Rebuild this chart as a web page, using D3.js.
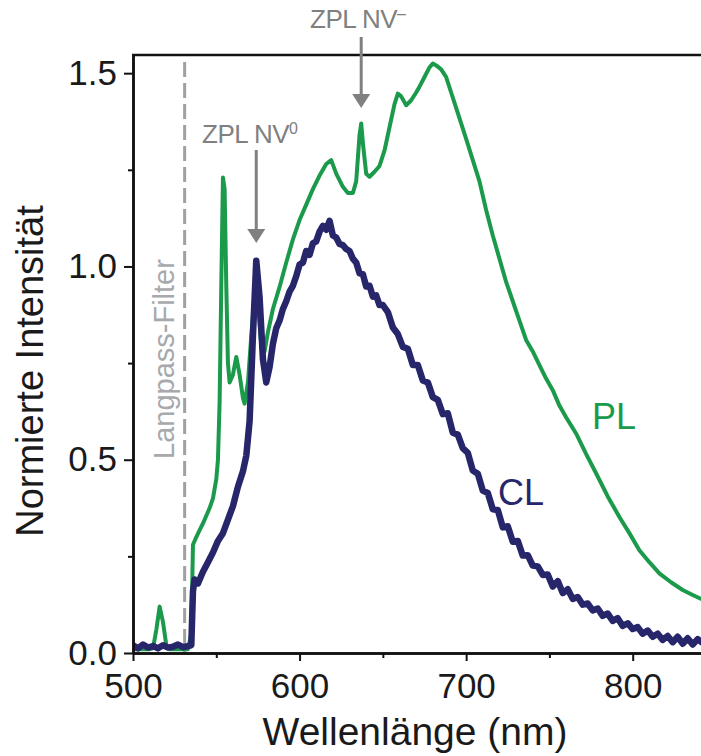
<!DOCTYPE html>
<html>
<head>
<meta charset="utf-8">
<script src="https://cdn.jsdelivr.net/npm/d3@7"></script>
<style>
    body { margin: 0; background: #ffffff; }
    text { font-family: "Liberation Sans", Arial, sans-serif; }
</style>
</head>
<body>
<div id="chart"></div>
<script>
// Spectra (wavelength in nm, normalised intensity)
var plWavelength = [500, 505, 510, 512, 514, 516, 518, 520, 522, 528, 533, 535, 536, 538, 540, 542, 544, 546, 548, 550,
    551, 552, 553, 554, 555, 556, 557, 558, 560, 562, 564, 566, 567, 569, 571, 573, 575, 577, 579, 581,
    584, 588, 592, 596, 600, 604, 608, 612, 616, 619, 622, 626, 629, 632, 634, 636, 637, 638, 640, 642,
    645, 648, 651, 654, 657, 659, 661, 664, 667, 670, 672, 675, 678, 680, 682, 685, 688, 691, 694, 697,
    700, 704, 708, 712, 716, 720, 724, 728, 732, 736, 740, 744, 748, 752, 756, 760, 766, 772, 778, 785,
    792, 798, 804, 810, 816, 823, 830, 836, 842];
var plIntensity = [0.01, 0.01, 0.01, 0.012, 0.06, 0.12, 0.08, 0.02, 0.01, 0.01, 0.01, 0.05, 0.28, 0.30, 0.318, 0.335, 0.355, 0.375, 0.40, 0.45,
    0.50, 0.65, 0.95, 1.23, 1.20, 0.95, 0.75, 0.70, 0.72, 0.766, 0.72, 0.66, 0.645, 0.70, 0.82, 0.93, 0.90, 0.80, 0.78, 0.83,
    0.89, 0.947, 1.01, 1.07, 1.12, 1.16, 1.20, 1.235, 1.265, 1.275, 1.24, 1.206, 1.19, 1.19, 1.22, 1.34, 1.37, 1.32, 1.24, 1.232,
    1.245, 1.26, 1.30, 1.36, 1.42, 1.447, 1.44, 1.417, 1.43, 1.45, 1.465, 1.49, 1.515, 1.525, 1.52, 1.51, 1.49, 1.45, 1.41, 1.37,
    1.33, 1.275, 1.22, 1.146, 1.08, 1.02, 0.96, 0.91, 0.86, 0.81, 0.78, 0.745, 0.71, 0.68, 0.64, 0.61, 0.568, 0.515, 0.465, 0.405,
    0.352, 0.31, 0.266, 0.235, 0.206, 0.183, 0.163, 0.15, 0.138];

var clWavelength = [500, 503, 506, 509, 512, 515, 518, 521, 524, 527, 530, 533, 535, 536, 537, 539, 542, 545, 548, 551,
    554, 557, 560, 563, 566, 568, 570, 572, 574, 576, 578, 580, 582, 584, 586, 588, 590, 592, 594, 596,
    598, 600, 602, 604, 606, 608, 610, 612, 614, 616, 618, 620, 622, 624, 626, 628, 630, 632, 634, 636,
    638, 640, 642, 644, 646, 648, 650, 653, 656, 659, 662, 665, 668, 671, 674, 677, 680, 683, 686, 689,
    692, 695, 698, 701, 704, 707, 710, 713, 716, 719, 722, 725, 728, 731, 734, 737, 740, 743, 746, 749,
    752, 755, 758, 761, 764, 767, 770, 773, 776, 779, 782, 785, 788, 791, 794, 797, 800, 803, 806, 809,
    812, 815, 818, 821, 824, 827, 830, 833, 836, 839, 842];
var clIntensity = [0.02, 0.012, 0.022, 0.014, 0.018, 0.012, 0.02, 0.014, 0.016, 0.022, 0.015, 0.018, 0.02, 0.16, 0.19, 0.18, 0.21, 0.235, 0.26, 0.29,
    0.31, 0.345, 0.38, 0.43, 0.47, 0.51, 0.60, 0.82, 1.015, 0.92, 0.76, 0.70, 0.74, 0.80, 0.84, 0.86, 0.89, 0.91, 0.935, 0.95,
    0.975, 1.005, 1.01, 1.04, 1.03, 1.06, 1.065, 1.09, 1.105, 1.095, 1.118, 1.08, 1.075, 1.058, 1.055, 1.045, 1.04, 1.02, 1.01, 0.982,
    0.98, 0.948, 0.95, 0.922, 0.925, 0.90, 0.90, 0.882, 0.842, 0.825, 0.792, 0.787, 0.745, 0.745, 0.705, 0.70, 0.662, 0.655, 0.618, 0.62,
    0.57, 0.565, 0.53, 0.518, 0.472, 0.464, 0.42, 0.414, 0.372, 0.37, 0.325, 0.328, 0.288, 0.29, 0.252, 0.253, 0.226, 0.224, 0.202, 0.203,
    0.172, 0.186, 0.155, 0.165, 0.14, 0.145, 0.125, 0.128, 0.11, 0.115, 0.096, 0.102, 0.083, 0.09, 0.07, 0.077, 0.062, 0.067, 0.05, 0.058,
    0.042, 0.05, 0.034, 0.044, 0.028, 0.042, 0.024, 0.038, 0.022, 0.036, 0.026];

var xMajorTicks = [500, 600, 700, 800];
var xMinorTicks = [550, 650, 750];
var yMajorTicks = [0.0, 0.5, 1.0, 1.5];
var yMinorTicks = [0.25, 0.75, 1.25];

var filterWavelength = 531;
var zplLabels = ["ZPL NV", "ZPL NV"];
var zplSuperscripts = ["0", "\u2013"];
var zplWavelength = [574, 637];

var main = function () {
    "use strict";

    var width = 701, height = 756;
    var plot = {left: 133, right: 701, top: 55, bottom: 653};

    var svg = d3.select("#chart").append("svg")
        .attr("width", width)
        .attr("height", height);

    var x = d3.scaleLinear().domain([500, 841]).range([plot.left, plot.right]);
    var y = d3.scaleLinear().domain([0, 1.547]).range([plot.bottom, plot.top]);

    // Clip the spectra to the plotting area
    svg.append("clipPath").attr("id", "clip")
        .append("rect")
        .attr("x", plot.left).attr("y", plot.top)
        .attr("width", plot.right - plot.left).attr("height", plot.bottom - plot.top);

    // Longpass filter edge
    svg.append("line")
        .attr("x1", x(filterWavelength)).attr("x2", x(filterWavelength))
        .attr("y1", plot.top + 7).attr("y2", plot.bottom)
        .attr("stroke", "#a0a0a0")
        .attr("stroke-width", 3)
        .attr("stroke-dasharray", "15,6");

    svg.append("text")
        .attr("transform", "translate(" + (x(filterWavelength) - 11) + "," + 459 + ") rotate(-90)")
        .attr("fill", "#a7a9ac")
        .style("font-size", "29px")
        .text("Langpass-Filter");

    var line = d3.line()
        .x(function(d) { return x(d[0]); })
        .y(function(d) { return y(d[1]); });

    var plData = d3.zip(plWavelength, plIntensity);
    var clData = d3.zip(clWavelength, clIntensity);

    svg.append("path")
        .datum(plData)
        .attr("clip-path", "url(#clip)")
        .attr("fill", "none")
        .attr("stroke", "#1b9a4b")
        .attr("stroke-width", 4)
        .attr("stroke-linejoin", "round")
        .attr("d", line);

    svg.append("path")
        .datum(clData)
        .attr("clip-path", "url(#clip)")
        .attr("fill", "none")
        .attr("stroke", "#27266b")
        .attr("stroke-width", 6.5)
        .attr("stroke-linejoin", "round")
        .attr("d", line);

    // Axes
    svg.append("g")
        .attr("transform", "translate(0," + plot.bottom + ")")
        .call(d3.axisBottom(x).tickValues(xMinorTicks).tickSize(5).tickSizeOuter(0).tickFormat(""))
        .call(styleAxis);
    svg.append("g")
        .attr("transform", "translate(0," + plot.bottom + ")")
        .call(d3.axisBottom(x).tickValues(xMajorTicks).tickSize(8).tickSizeOuter(0).tickPadding(12))
        .call(styleAxis);

    svg.append("g")
        .attr("transform", "translate(" + plot.left + ",0)")
        .call(d3.axisLeft(y).tickValues(yMinorTicks).tickSize(5).tickSizeOuter(0).tickFormat(""))
        .call(styleAxis);
    svg.append("g")
        .attr("transform", "translate(" + plot.left + ",0)")
        .call(d3.axisLeft(y).tickValues(yMajorTicks).tickSize(9).tickSizeOuter(0).tickPadding(7).tickFormat(d3.format(".1f")))
        .call(styleAxis);

    // Top frame line
    svg.append("line")
        .attr("x1", plot.left - 1).attr("x2", plot.right)
        .attr("y1", plot.top).attr("y2", plot.top)
        .attr("stroke", "#111111")
        .attr("stroke-width", 2.5);

    // Axis titles
    svg.append("text")
        .attr("x", (plot.left + plot.right) / 2 - 2)
        .attr("y", 745)
        .attr("text-anchor", "middle")
        .attr("fill", "#1a1a1a")
        .style("font-size", "39px")
        .text("Wellenlänge (nm)");

    svg.append("text")
        .attr("transform", "translate(43," + 371 + ") rotate(-90)")
        .attr("text-anchor", "middle")
        .attr("fill", "#1a1a1a")
        .style("font-size", "38px")
        .text("Normierte Intensität");

    // Series labels
    svg.append("text")
        .attr("x", 592).attr("y", 429)
        .attr("fill", "#1b9a4b")
        .style("font-size", "36px")
        .text("PL");
    svg.append("text")
        .attr("x", 498).attr("y", 505)
        .attr("fill", "#27266b")
        .style("font-size", "36px")
        .text("CL");

    // ZPL arrows
    var arrowTop = [150, 37];
    var arrowTip = [243, 108];
    var labelBase = [143, 28];
    var labelX = [202, 310];

    zplWavelength.forEach(function(w, i) {
        var ax = x(w);
        svg.append("line")
            .attr("x1", ax).attr("x2", ax)
            .attr("y1", arrowTop[i]).attr("y2", arrowTip[i] - 12)
            .attr("stroke", "#808080")
            .attr("stroke-width", 3);
        svg.append("path")
            .attr("d", "M" + (ax - 9) + "," + (arrowTip[i] - 14) + "L" + (ax + 9) + "," + (arrowTip[i] - 14) + "L" + ax + "," + arrowTip[i] + "Z")
            .attr("fill", "#808080");

        var t = svg.append("text")
            .attr("x", labelX[i]).attr("y", labelBase[i])
            .attr("fill", "#808080")
            .style("font-size", "26px")
            .style("letter-spacing", "-0.5px");
        t.append("tspan").text(zplLabels[i]);
        t.append("tspan")
            .attr("dy", -9)
            .style("font-size", "16px")
            .text(zplSuperscripts[i]);
    });
};

function styleAxis(g) {
    g.select(".domain").attr("stroke", "#111111").attr("stroke-width", 2.5);
    g.selectAll(".tick line").attr("stroke", "#111111").attr("stroke-width", 2);
    g.selectAll(".tick text")
        .attr("fill", "#1a1a1a")
        .style("font-family", "'Liberation Sans', Arial, sans-serif")
        .style("font-size", "35px");
}

main();
</script>
</body>
</html>
